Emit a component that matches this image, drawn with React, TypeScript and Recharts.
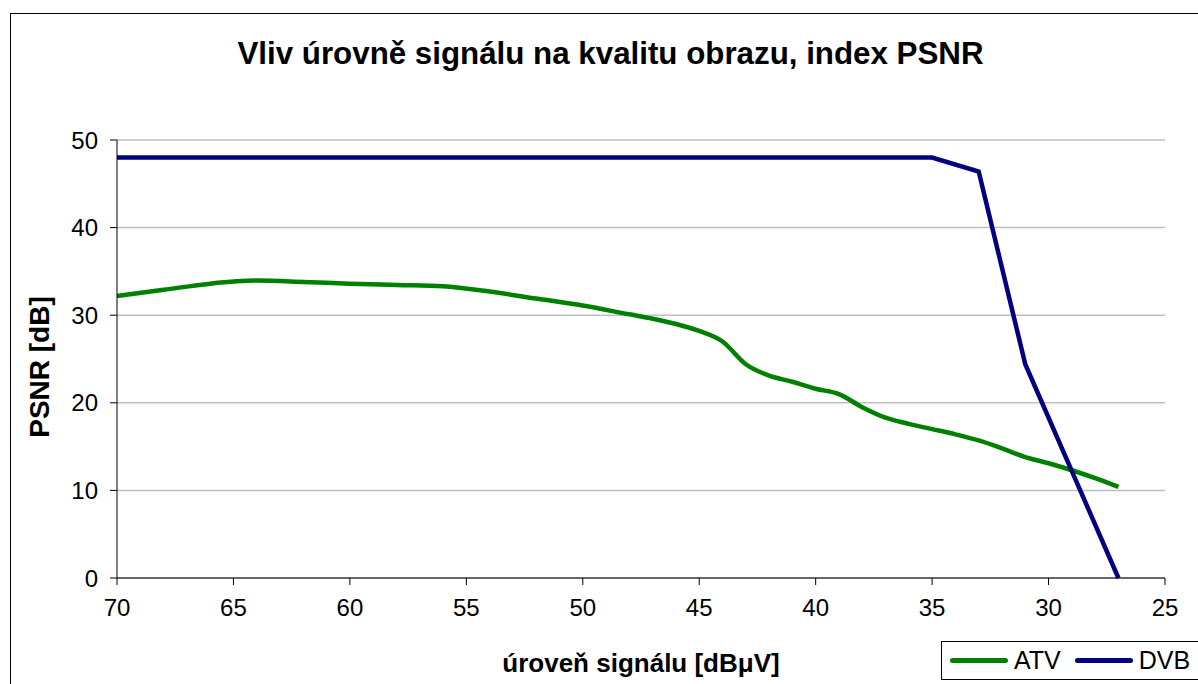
import { LineChart, Line, XAxis, YAxis, CartesianGrid } from "recharts"

const atvLevels = [70, 68, 66, 64, 62, 60, 58, 56, 54, 52, 50, 48, 47, 46, 45, 44, 43, 42, 41, 40, 39, 38, 37, 36, 35, 34, 33, 32, 31, 30, 29, 28, 27]
const atvPsnr = [32.2, 32.9, 33.6, 33.95, 33.8, 33.6, 33.45, 33.3, 32.7, 31.9, 31.1, 30.1, 29.6, 29.0, 28.2, 27.0, 24.4, 23.1, 22.4, 21.6, 21.0, 19.5, 18.3, 17.6, 17.0, 16.4, 15.7, 14.8, 13.8, 13.1, 12.3, 11.4, 10.4]

const dvbLevels = [70, 35, 33, 31, 29, 27]
const dvbPsnr = [48, 48, 46.4, 24.4, 12.2, 0]

const xTicks = [70, 65, 60, 55, 50, 45, 40, 35, 30, 25]
const yTicks = [0, 10, 20, 30, 40, 50]

const atvData = atvLevels.map((x, i) => ({ level: x, psnr: atvPsnr[i] }))
const dvbData = dvbLevels.map((x, i) => ({ level: x, psnr: dvbPsnr[i] }))

const font = '"Liberation Sans", Arial, sans-serif'
const GREEN = "#008000"
const NAVY = "#000080"

function LegendBox() {
  const item = (color: string, text: string, gap: number) => (
    <span style={{ display: "inline-flex", alignItems: "center", marginRight: gap }}>
      <span style={{ display: "inline-block", width: 58, height: 5, borderRadius: 3, background: color, marginRight: 6 }} />
      <span>{text}</span>
    </span>
  )
  return (
    <div
      style={{
        position: "absolute",
        left: 941,
        top: 641,
        border: "1px solid #000",
        background: "#fff",
        height: 39,
        width: 280,
        display: "flex",
        alignItems: "center",
        paddingLeft: 8,
        fontFamily: font,
        fontSize: 25,
        color: "#000",
        boxSizing: "border-box",
      }}
    >
      {item(GREEN, "ATV", 14)}
      {item(NAVY, "DVB", 0)}
    </div>
  )
}

export default function App() {
  return (
    <div style={{ position: "fixed", left: 0, top: 0, width: 1198, height: 684, overflow: "hidden", background: "#fff" }}>
      <div style={{ position: "absolute", left: 10, top: 13, width: 1300, height: 800, border: "1px solid #000" }} />
      <div style={{ position: "absolute", left: 0, top: 0 }}>
        <LineChart width={1198} height={684} margin={{ top: 140, right: 33, bottom: 46, left: 0 }}>
          <CartesianGrid vertical={false} stroke="#c0c0c0" strokeWidth={1.5} />
          <XAxis
            type="number"
            dataKey="level"
            domain={[25, 70]}
            reversed
            ticks={xTicks}
            interval={0}
            height={60}
            tickSize={7}
            tickMargin={14}
            stroke="#000"
            tick={{ fill: "#000", fontSize: 24, fontFamily: font }}
            allowDuplicatedCategory={false}
          />
          <YAxis
            type="number"
            domain={[0, 50]}
            ticks={yTicks}
            interval={0}
            width={117}
            tickSize={7}
            tickMargin={12}
            stroke="#000"
            tick={{ fill: "#000", fontSize: 24, fontFamily: font }}
          />
          <Line
            data={atvData}
            dataKey="psnr"
            name="ATV"
            type="monotone"
            stroke={GREEN}
            strokeWidth={4.5}
            dot={false}
            isAnimationActive={false}
          />
          <Line
            data={dvbData}
            dataKey="psnr"
            name="DVB"
            type="linear"
            stroke={NAVY}
            strokeWidth={4.5}
            dot={false}
            isAnimationActive={false}
          />
        </LineChart>
      </div>
      <div
        style={{
          position: "absolute",
          left: 0,
          width: 1221,
          top: 36,
          textAlign: "center",
          fontFamily: font,
          fontWeight: "bold",
          fontSize: 31.3,
          color: "#000",
          whiteSpace: "nowrap",
        }}
      >
        Vliv úrovně signálu na kvalitu obrazu, index PSNR
      </div>
      <div
        style={{
          position: "absolute",
          left: 117,
          width: 1048,
          top: 648,
          textAlign: "center",
          fontFamily: font,
          fontWeight: "bold",
          fontSize: 26,
          color: "#000",
          whiteSpace: "nowrap",
        }}
      >
        úroveň signálu [dBμV]
      </div>
      <div
        style={{
          position: "absolute",
          left: 40,
          top: 367,
          transform: "translate(-50%, -50%) rotate(-90deg)",
          fontFamily: font,
          fontWeight: "bold",
          fontSize: 28,
          color: "#000",
          whiteSpace: "nowrap",
        }}
      >
        PSNR [dB]
      </div>
      <LegendBox />
    </div>
  )
}
